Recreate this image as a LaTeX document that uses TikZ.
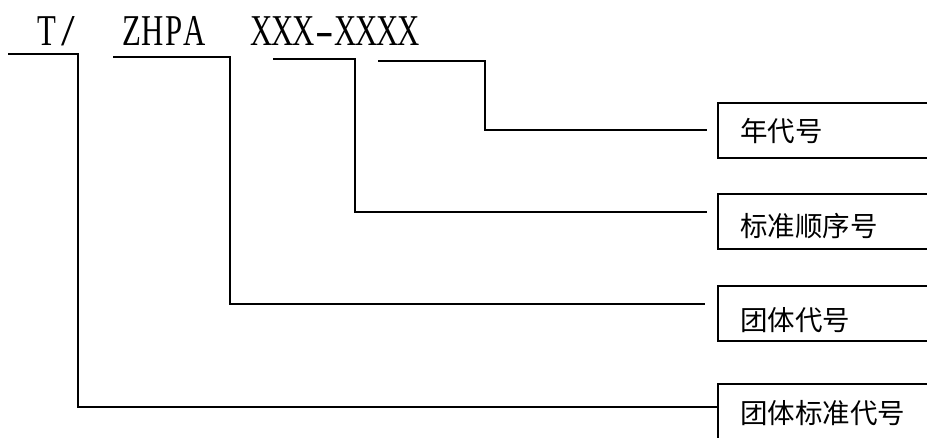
\documentclass[tikz,border=0pt]{standalone}
\usepackage{fontspec}
\setmainfont{Liberation Serif}
\newfontfamily\latinnarrow[FakeStretch=0.7]{Liberation Serif}
\newfontfamily\cjk{Noto Sans CJK SC}
\usetikzlibrary{calc}
\newcommand{\cellc}[1]{\makebox[21pt]{#1}}
\begin{document}
\begin{tikzpicture}[x=1pt,y=-1pt,
  code/.style={inner sep=0pt, anchor=base west, font=\latinnarrow\fontsize{44}{44}\selectfont},
  boxnode/.style={draw, line width=2pt, minimum width=260pt, minimum height=55pt, inner sep=0pt, anchor=north west},
  lab/.style={inner sep=0pt, anchor=west, font=\cjk\fontsize{27.5}{28}\selectfont},
  conn/.style={line width=2pt}]
\useasboundingbox (0,0) rectangle (927,437);
\clip (0,0) rectangle (927,437);
\fill[white] (0,0) rectangle (927,437);
% code text
\node[code] (tT) at (37,45) {\makebox[24pt][l]{T}\scalebox{1.6}[1]{/}};
\node[code] (tZ) at (121,45) {\cellc{Z}\cellc{H}\cellc{P}\cellc{A}};
\node[code] (tX) at (251,45) {\cellc{X}\cellc{X}\cellc{X}\cellc{\scalebox{1.8}[1]{-}}\cellc{X}\cellc{X}\cellc{X}\cellc{X}};
% boxes
\node[boxnode] (b1) at (717,102) {};
\node[boxnode] (b2) at (717,193) {};
\node[boxnode] (b3) at (717,285) {};
\node[boxnode, minimum height=56pt] (b4) at (717,383) {};
% labels
\node[lab] (l1) at (740,131) {年代号};
\node[lab] (l2) at (740,226) {标准顺序号};
\node[lab] (l3) at (740,320) {团体代号};
\node[lab] (l4) at (740,413.5) {团体标准代号};
% connector coordinates
\coordinate (u1a) at (8,54);   \coordinate (u1b) at (78,54);
\coordinate (u2a) at (113,57); \coordinate (u2b) at (230,57);
\coordinate (u3a) at (273,59); \coordinate (u3b) at (355,59);
\coordinate (u4a) at (378,61); \coordinate (u4b) at (485,61);
\coordinate (e1) at ($(b1.north west)+(-10,27.5)$);
\coordinate (e2) at ($(b2.north west)+(-10,18.5)$);
\coordinate (e3) at ($(b3.north west)+(-12,18.5)$);
\coordinate (e4) at ($(b4.north west)+(0,24)$);
% connectors
\draw[conn] (u4a) -- (u4b) |- (e1);
\draw[conn] (u3a) -- (u3b) |- (e2);
\draw[conn] (u2a) -- (u2b) |- (e3);
\draw[conn] (u1a) -- (u1b) |- (e4);
\end{tikzpicture}
\end{document}
